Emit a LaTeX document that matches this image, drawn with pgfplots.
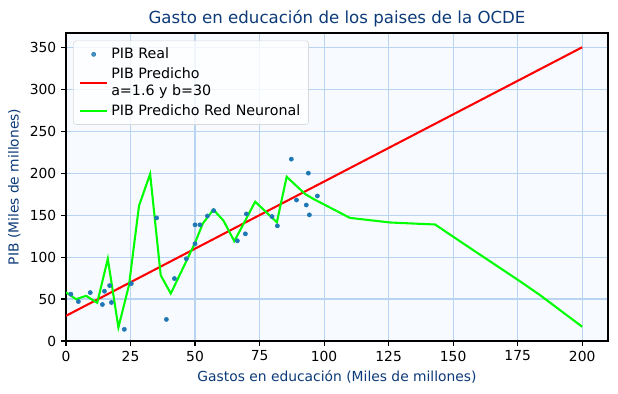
\documentclass[border=0pt]{standalone}
\usepackage{pgfplots}
\pgfplotsset{compat=1.18}
\usepackage{fontspec}
\setmainfont{DejaVu Sans}
\definecolor{ttl}{RGB}{12,58,120}
\definecolor{gridc}{RGB}{184,212,240}
\definecolor{bgc}{RGB}{247,250,255}
\definecolor{mblue}{RGB}{31,119,180}
\definecolor{lime}{RGB}{0,255,0}
\pgfplotsset{
  legline/.style={legend image code/.code={\draw[##1] (0cm,0cm) -- (0.7cm,0cm);}},
  legmark/.style={legend image code/.code={\draw[##1] plot coordinates {(0.35cm,0cm)};}},
}
\begin{document}
\begin{tikzpicture}
\begin{axis}[
  at={(0,0)}, anchor=south west,
  scale only axis, width=5.42in, height=3.08in,
  xmin=0, xmax=210, ymin=0, ymax=367,
  xtick={0,25,...,200}, ytick={0,50,...,350},
  axis background/.style={fill=bgc},
  grid=major, major grid style={gridc, line width=0.8pt},
  tick align=outside, tick pos=left,
  major tick length=3.5pt,
  tick style={black, line width=0.8pt},
  axis line style={black, line width=0.8pt},
  ticklabel style={font=\fontsize{10}{12}\selectfont},
  /pgf/number format/assume math mode=true,
  title={Gasto en educación de los paises de la OCDE},
  title style={font=\fontsize{12}{14}\selectfont, color=ttl, yshift=-5pt},
  xlabel={Gastos en educación (Miles de millones)},
  ylabel={PIB (Miles de millones)},
  label style={font=\fontsize{10}{12}\selectfont, color=ttl},
  legend cell align=left,
  legend style={font=\fontsize{10.3}{12.5}\selectfont, draw=black!15, rounded corners=2pt, fill=white, fill opacity=0.8, text opacity=1, at={(0.013,0.975)}, anchor=north west, row sep=1.2pt, inner sep=3pt, inner xsep=4pt},
]
\addplot[only marks, mark=*, mark size=1.5pt, mblue, mark options={draw=mblue, fill=mblue}, legmark] coordinates {
(1.9,55.8) (4.8,47) (9.4,57.7) (14.1,43.5) (14.9,59.3) (16.9,66) (17.6,45.9)
(22.6,13.9) (25.3,68.4) (35.1,146.7) (38.9,25.7) (42,74.4) (46.6,98) (50,115.9)
(50,138.4) (51.9,138.4) (54.8,149) (57.2,155.4) (66.4,119.4) (69.5,127.7)
(69.9,151.4) (79.8,148.3) (81.9,137.2) (87.3,216.7) (89.3,168) (93.9,200)
(93.1,162) (94.3,150.3) (97.4,172.8)
};
\addlegendentry{PIB Real}
\addplot[red, line width=1.5pt, legline] coordinates {(0,30) (200,350)};
\addlegendentry{\shortstack[l]{PIB Predicho\\[1pt]a=1.6 y b=30}}
\addplot[lime, line width=1.5pt, legline] coordinates {
(0,58) (3.9,49.8) (7.8,53.8) (12.1,45.5) (16.2,98) (20.3,16.2) (24.4,66.4)
(28.3,161.3) (32.6,199) (36.7,78.3) (40.6,56.6) (46.6,95) (50,117) (53,140)
(57.1,156.6) (61,143.5) (65.2,119) (68,135) (73.3,166) (81.7,141.5) (85.5,195.7)
(92.6,175.2) (95.9,169.2) (110,146.7) (125.6,141.2) (143,138.8) (157.9,108)
(175.3,72.4) (183.7,54.6) (194,30.8) (200,17)
};
\addlegendentry{PIB Predicho Red Neuronal}
\end{axis}
\path (-0.66in,-0.53in) rectangle (5.52in,3.41in);
\end{tikzpicture}
\end{document}
